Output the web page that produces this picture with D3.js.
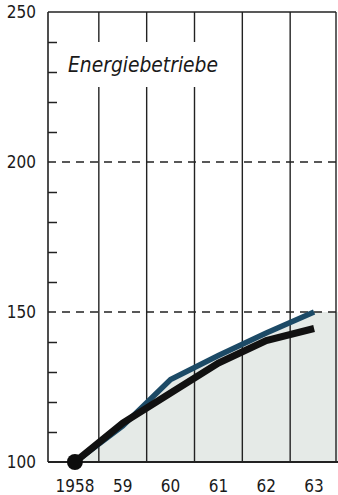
<!DOCTYPE html>
<html>
<head>
<meta charset="utf-8">
<script src="https://cdn.jsdelivr.net/npm/d3@7"></script>
<style>
  body { margin: 0; background: #fff; }
  svg { display: block; }
  text { font-family: "Liberation Sans Narrow", "DejaVu Sans Condensed", "Roboto", sans-serif; fill: #1a1a1a; }
</style>
</head>
<body>
<svg id="svg1" width="338" height="495"></svg>
<script>
// years on the x axis and their labels
var years = [1958, 1959, 1960, 1961, 1962, 1963];
var yearLabels = ["1958", "59", "60", "61", "62", "63"];

// index values (1958 = 100)
var blueValues = [100, 112, 127.5, 135.5, 143, 150];
var blackValues = [100, 113, 123, 133, 140.5, 144.5];

var yLabelTicks = [100, 150, 200, 250];
var dashedTicks = [150, 200];
var minorTicks = [110, 120, 130, 140, 160, 170, 180, 190, 210, 220, 230, 240];

var title = "Energiebetriebe";

var svg = d3.select("#svg1");

var plotLeft = 48, plotRight = 336, plotTop = 12, plotBottom = 462;

var x = d3.scaleBand().domain(years).range([plotLeft + 3, plotRight + 2]).padding(0);
var y = d3.scaleLinear().domain([100, 250]).range([plotBottom, plotTop]);

var blue = years.map(function(d, i) { return { year: d, v: blueValues[i] }; });
var black = years.map(function(d, i) { return { year: d, v: blackValues[i] }; });

// shaded field below the blue line, running on to the right edge
var areaPts = blue.map(function(d) { return [x(d.year) + x.bandwidth() / 2, y(d.v)]; });
areaPts.push([plotRight + 2, y(blueValues[blueValues.length - 1])]);

svg.append("path")
   .attr("d", d3.area().x(function(d) { return d[0]; }).y0(y(100)).y1(function(d) { return d[1]; })(areaPts))
   .attr("fill", "#e5eae7");

// vertical grid lines between the years
var grid = svg.append("g").attr("class", "grid");
years.slice(1).forEach(function(yr) {
  var gx = x(yr);
  var crossesTitle = gx < 225;
  if (crossesTitle) {
    grid.append("line").attr("x1", gx).attr("x2", gx).attr("y1", y(250)).attr("y2", 42);
    grid.append("line").attr("x1", gx).attr("x2", gx).attr("y1", 87).attr("y2", y(100));
  } else {
    grid.append("line").attr("x1", gx).attr("x2", gx).attr("y1", y(250)).attr("y2", y(100));
  }
});
grid.append("line").attr("x1", plotRight).attr("x2", plotRight).attr("y1", y(250)).attr("y2", y(100));
grid.selectAll("line").attr("stroke", "#222").attr("stroke-width", 1.4);

// dashed lines at 150 and 200
svg.selectAll(".dash")
   .data(dashedTicks)
   .enter()
   .append("line")
   .attr("class", "dash")
   .attr("x1", plotLeft).attr("x2", plotRight + 2)
   .attr("y1", function(d) { return y(d); })
   .attr("y2", function(d) { return y(d); })
   .attr("stroke", "#222")
   .attr("stroke-width", 1.3)
   .attr("stroke-dasharray", "8,6");

// top border
svg.append("line")
   .attr("x1", plotLeft).attr("x2", plotRight)
   .attr("y1", y(250)).attr("y2", y(250))
   .attr("stroke", "#222").attr("stroke-width", 1.5);

// y axis with short inward ticks
svg.append("g")
   .attr("transform", "translate(" + plotLeft + ",0)")
   .call(d3.axisRight(y).tickValues(minorTicks).tickSize(9).tickFormat(""))
   .call(function(g) {
     g.select(".domain").remove();
     g.selectAll(".tick line").attr("stroke", "#222").attr("stroke-width", 1.5);
   });

svg.append("line")
   .attr("x1", plotLeft).attr("x2", plotLeft)
   .attr("y1", y(250)).attr("y2", y(100))
   .attr("stroke", "#222").attr("stroke-width", 1.6);

svg.append("g")
   .attr("transform", "translate(" + (plotLeft - 9) + ",0)")
   .call(d3.axisLeft(y).tickValues(yLabelTicks).tickSize(0).tickFormat(d3.format("d")))
   .call(function(g) {
     g.select(".domain").remove();
     g.selectAll(".tick text").attr("font-size", 17).attr("fill", "#1a1a1a")
      .attr("font-family", "'Liberation Sans Narrow', 'DejaVu Sans Condensed', sans-serif");
   });

// x axis
svg.append("g")
   .attr("transform", "translate(0," + plotBottom + ")")
   .call(d3.axisBottom(x).tickSize(0).tickFormat(function(d, i) { return yearLabels[i]; }))
   .call(function(g) {
     g.select(".domain").remove();
     g.selectAll(".tick text").attr("dy", 27).attr("font-size", 17).attr("fill", "#1a1a1a")
      .attr("font-family", "'Liberation Sans Narrow', 'DejaVu Sans Condensed', sans-serif");
   });

svg.append("line")
   .attr("x1", plotLeft).attr("x2", plotRight + 2)
   .attr("y1", y(100)).attr("y2", y(100))
   .attr("stroke", "#222").attr("stroke-width", 1.8);

// the two series
var line = d3.line()
   .x(function(d) { return x(d.year) + x.bandwidth() / 2; })
   .y(function(d) { return y(d.v); });

svg.append("path")
   .datum(blue)
   .attr("d", line)
   .attr("fill", "none")
   .attr("stroke", "#1c4a66")
   .attr("stroke-width", 5.5);

svg.append("path")
   .datum(black)
   .attr("d", line)
   .attr("fill", "none")
   .attr("stroke", "#111")
   .attr("stroke-width", 7);

svg.append("circle")
   .attr("cx", x(years[0]) + x.bandwidth() / 2)
   .attr("cy", y(blueValues[0]))
   .attr("r", 8)
   .attr("fill", "#0d0d0d");

// title
svg.append("text")
   .attr("x", 68)
   .attr("y", 72)
   .attr("font-size", 22)
   .attr("font-style", "italic")
   .attr("textLength", 150)
   .attr("lengthAdjust", "spacingAndGlyphs")
   .text(title);
</script>
</body>
</html>
